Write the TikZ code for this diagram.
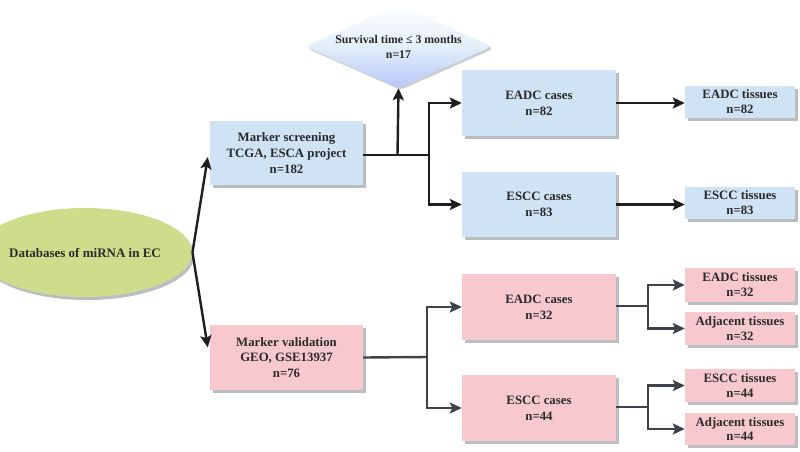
\documentclass[tikz,border=0pt]{standalone}
\usepackage{fontspec}
\setmainfont{Liberation Serif}
\usetikzlibrary{shapes.geometric,arrows.meta,shadows,calc}
\definecolor{bluefill}{HTML}{CFE3F5}
\definecolor{pinkfill}{HTML}{F7C9CE}
\definecolor{greenfill}{HTML}{CEDD8B}
\definecolor{shadowgray}{HTML}{A9AEB4}
\definecolor{arrdark}{HTML}{1E1E1E}
\definecolor{arrgray}{HTML}{3E4349}
\definecolor{txt}{HTML}{2A2A2A}
\begin{document}
\begin{tikzpicture}[x=1pt,y=-1pt,
  box/.style={rectangle, inner sep=0pt, align=center, text=txt,
    font=\fontsize{12.8}{15.8}\selectfont\bfseries,
    drop shadow={shadow xshift=2.5pt, shadow yshift=-2.5pt, fill=shadowgray, opacity=0.8}},
  bluebox/.style={box, fill=bluefill},
  pinkbox/.style={box, fill=pinkfill},
  bigbox/.style={minimum width=154pt, minimum height=65pt},
  smallbox/.style={minimum width=110pt, minimum height=33pt, font=\fontsize{12.8}{14.8}\selectfont\bfseries},
  arrA/.style={line width=2.4pt, draw=arrdark, -{Stealth[length=12pt,width=11pt,inset=2.5pt]}},
  lineA/.style={line width=2.4pt, draw=arrdark},
  arrB/.style={line width=2.4pt, draw=arrgray, -{Stealth[length=12pt,width=11pt,inset=2.5pt]}},
  lineB/.style={line width=2.4pt, draw=arrgray}]
\useasboundingbox (0,0) rectangle (800,451);
\fill[white] (0,0) rectangle (800,451);

% root ellipse
\node[ellipse, fill=greenfill, minimum width=164pt, minimum height=89pt, inner sep=0pt,
  text=txt, font=\fontsize{13}{15}\selectfont\bfseries,
  drop shadow={shadow xshift=2pt, shadow yshift=-3pt, fill=shadowgray, opacity=0.8}]
  (root) at (85,252.5) {Databases of miRNA in EC};

% level 1
\node[bluebox, bigbox, minimum width=153pt, minimum height=64pt] (ms) at (286.5,153) {Marker screening\\TCGA, ESCA project\\n=182};
\node[pinkbox, bigbox, minimum width=153pt] (mv) at (286.5,357.5) {Marker validation\\GEO, GSE13937\\n=76};

% diamond
\node[diamond, minimum width=187pt, minimum height=83pt, inner sep=0pt, rounded corners=5pt,
  top color=white, bottom color=bluefill!85!blue!90!white, middle color=bluefill!60!white,
  drop shadow={shadow xshift=2pt, shadow yshift=-2pt, fill=shadowgray, opacity=0.6}]
  (dia) at (398.5,46.5) {};
\node[align=center, text=txt, font=\fontsize{11.8}{15}\selectfont\bfseries] (diat) at (dia.center) {Survival time ≤ 3 months\\n=17};

% level 2
\node[bluebox, bigbox, minimum height=66pt] (ec1) at (539,103) {EADC cases\\n=82};
\node[bluebox, bigbox] (sc1) at (539,204.5) {ESCC cases\\n=83};
\node[pinkbox, bigbox, minimum height=66pt] (ec2) at (539,307) {EADC cases\\n=32};
\node[pinkbox, bigbox, minimum height=66pt] (sc2) at (539,408) {ESCC cases\\n=44};

% level 3
\node[bluebox, smallbox, minimum height=32pt] (et1) at (740,102) {EADC tissues\\n=82};
\node[bluebox, smallbox, minimum height=32pt] (st1) at (740,203) {ESCC tissues\\n=83};
\node[pinkbox, smallbox, minimum height=34pt] (et2) at (740,285) {EADC tissues\\n=32};
\node[pinkbox, smallbox] (at2) at (740,328.5) {Adjacent tissues\\n=32};
\node[pinkbox, smallbox] (st2) at (740,385.5) {ESCC tissues\\n=44};
\node[pinkbox, smallbox, minimum height=32pt] (at3) at (740,429) {Adjacent tissues\\n=44};

% connectors from root
\draw[arrA] (root.east) -- ($(ms.west)+(-2,4)$);
\draw[arrA] (root.east) -- ($(mv.west)+(-2,-10)$);

% upper tree
\coordinate (j1) at (429,155);
\coordinate (jd) at (397.5,155);
\draw[lineA] ($(ms.east)+(0,2)$) -- (j1);
\draw[arrA] (jd) -- (dia.south);
\draw[arrA] (j1) |- (ec1.west);
\draw[arrA] (j1) |- (sc1.west);
\draw[arrA] (ec1.east) -- (ec1.east -| et1.west);
\draw[arrA] (sc1.east) -- (sc1.east -| st1.west);

% lower tree
\coordinate (j2) at (427,357);
\draw[lineB] (mv.east) -- (j2);
\draw[arrB] (j2) |- (ec2.west);
\draw[arrB] (j2) |- (sc2.west);
\coordinate (j3) at (648,306);
\draw[lineB] ($(ec2.east)+(0,-1)$) -- (j3);
\draw[arrB] (j3) |- (et2.west);
\draw[arrB] (j3) |- (at2.west);
\coordinate (j4) at (648,407);
\draw[lineB] ($(sc2.east)+(0,-1)$) -- (j4);
\draw[arrB] (j4) |- (st2.west);
\draw[arrB] (j4) |- (at3.west);
\end{tikzpicture}
\end{document}
